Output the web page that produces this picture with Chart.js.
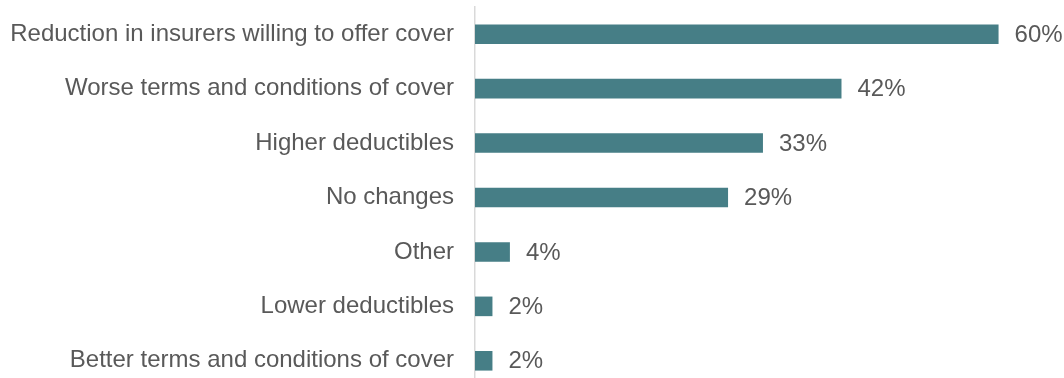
<!DOCTYPE html>
<html>
<head>
<meta charset="utf-8">
<script src="https://cdn.jsdelivr.net/npm/chart.js@4/dist/chart.umd.min.js"></script>
<style>
  html, body { margin: 0; padding: 0; background: #fff; overflow: hidden; }
  canvas { display: block; }
</style>
</head>
<body>
<canvas id="myChart" width="1064" height="390"></canvas>
<script>
const categories = [
  'Reduction in insurers willing to offer cover',
  'Worse terms and conditions of cover',
  'Higher deductibles',
  'No changes',
  'Other',
  'Lower deductibles',
  'Better terms and conditions of cover'
];
const shares = [60, 42, 33, 29, 4, 2, 2];

const textColor = '#595959';
const fontFamily = '"Liberation Sans", Arial, sans-serif';

// writes "NN%" just past the end of every bar
const valueLabels = {
  id: 'valueLabels',
  afterDatasetsDraw(chart) {
    const ctx = chart.ctx;
    const meta = chart.getDatasetMeta(0);
    ctx.save();
    ctx.font = '24px ' + fontFamily;
    ctx.fillStyle = textColor;
    ctx.textAlign = 'left';
    ctx.textBaseline = 'middle';
    meta.data.forEach((bar, i) => {
      ctx.fillText(shares[i] + '%', bar.x + 16, bar.y + 1);
    });
    ctx.restore();
  }
};

let ctx = document.getElementById('myChart').getContext('2d');
let chart = new Chart(ctx, {
  type: 'bar',
  data: {
    labels: categories,
    datasets: [{
      data: shares,
      backgroundColor: '#467e86',
      borderWidth: 0,
      barPercentage: 0.36,
      categoryPercentage: 1
    }]
  },
  options: {
    indexAxis: 'y',
    responsive: false,
    animation: false,
    layout: { padding: { left: 10, right: 0, top: 7, bottom: 2 } },
    plugins: {
      legend: { display: false },
      tooltip: { enabled: false }
    },
    scales: {
      x: {
        display: false,
        min: 0,
        max: 67.5
      },
      y: {
        grid: { display: false, drawTicks: false },
        border: { display: true, color: '#d9d9d9', width: 1.5 },
        ticks: {
          color: textColor,
          padding: 21,
          font: { size: 24, family: fontFamily }
        },
        // label column is exactly text + gap, no extra room above/below
        afterFit(scale) {
          scale.width = 465;
          scale.paddingTop = 0;
          scale.paddingBottom = 0;
        }
      }
    }
  },
  plugins: [valueLabels]
});
</script>
</body>
</html>
